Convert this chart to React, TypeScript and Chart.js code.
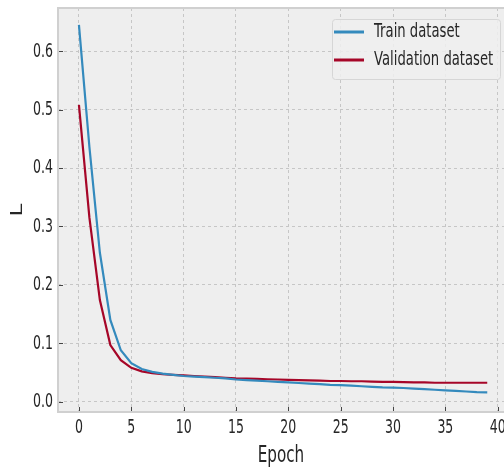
import { useEffect, useRef } from "react";
import { Chart, registerables } from "chart.js";

Chart.register(...registerables);

const epochs = [
  0, 1, 2, 3, 4, 5, 6, 7, 8, 9, 10, 11, 12, 13, 14, 15, 16, 17, 18, 19,
  20, 21, 22, 23, 24, 25, 26, 27, 28, 29, 30, 31, 32, 33, 34, 35, 36, 37, 38, 39,
];

const trainLoss = [
  0.645, 0.436, 0.255, 0.14, 0.088, 0.066, 0.056, 0.051, 0.048, 0.046,
  0.044, 0.043, 0.042, 0.041, 0.04, 0.038, 0.037, 0.036, 0.035, 0.034,
  0.033, 0.032, 0.031, 0.03, 0.029, 0.0285, 0.0275, 0.0265, 0.0255, 0.0245,
  0.024, 0.0235, 0.0225, 0.0215, 0.0205, 0.0195, 0.0185, 0.0175, 0.0165, 0.016,
];

const validationLoss = [
  0.508, 0.315, 0.174, 0.097, 0.071, 0.058, 0.052, 0.049, 0.047, 0.046,
  0.045, 0.044, 0.043, 0.042, 0.041, 0.04, 0.0395, 0.039, 0.0385, 0.038,
  0.0375, 0.037, 0.0365, 0.036, 0.0355, 0.0355, 0.035, 0.035, 0.0345, 0.034,
  0.034, 0.0335, 0.033, 0.033, 0.0325, 0.0325, 0.0325, 0.0325, 0.0325, 0.0325,
];

const seriesLabels = ["Train dataset", "Validation dataset"];
const xTickValues = [0, 5, 10, 15, 20, 25, 30, 35, 40];
const yTickValues = [0.0, 0.1, 0.2, 0.3, 0.4, 0.5, 0.6];
const xTitle = "Epoch";
const yTitle = "L";

const FONT = "'DejaVu Sans', sans-serif";
const TEXT = "#262626";
const SX = 0.66; // horizontal squeeze of all text

function squeezedText(
  ctx: CanvasRenderingContext2D,
  text: string,
  x: number,
  y: number,
  size: number,
  align: CanvasTextAlign,
  baseline: CanvasTextBaseline,
  rotate = 0
) {
  ctx.save();
  ctx.translate(x, y);
  ctx.scale(SX, 1);
  if (rotate) ctx.rotate(rotate);
  ctx.font = `${size}px ${FONT}`;
  ctx.fillStyle = TEXT;
  ctx.textAlign = align;
  ctx.textBaseline = baseline;
  ctx.fillText(text, 0, 0);
  ctx.restore();
}

const bmhPlugin = {
  id: "bmh",
  beforeDraw(chart: any) {
    const { ctx, chartArea: a } = chart;
    ctx.save();
    ctx.fillStyle = "#eeeeee";
    ctx.fillRect(a.left, a.top, a.right - a.left, a.bottom - a.top);
    ctx.restore();
  },
  afterDraw(chart: any) {
    const { ctx, chartArea: a } = chart;
    const xs = chart.scales.x;
    const ys = chart.scales.y;
    ctx.save();
    // frame
    ctx.strokeStyle = "#d0d0d0";
    ctx.lineWidth = 2;
    ctx.strokeRect(a.left, a.top, a.right - a.left + 4, a.bottom - a.top);
    // inward ticks
    ctx.strokeStyle = "#444";
    ctx.lineWidth = 1;
    xs.ticks.forEach((t: any) => {
      const px = Math.round(xs.getPixelForValue(t.value)) + 0.5;
      ctx.beginPath();
      ctx.moveTo(px, a.bottom - 1);
      ctx.lineTo(px, a.bottom - 5);
      ctx.stroke();
    });
    ys.ticks.forEach((t: any) => {
      const py = Math.round(ys.getPixelForValue(t.value)) + 0.5;
      ctx.beginPath();
      ctx.moveTo(a.left + 1, py);
      ctx.lineTo(a.left + 5, py);
      ctx.stroke();
    });
    ctx.restore();

    // tick labels
    xs.ticks.forEach((t: any) => {
      squeezedText(ctx, String(t.value), xs.getPixelForValue(t.value), a.bottom + 21, 19, "center", "alphabetic");
    });
    ys.ticks.forEach((t: any) => {
      squeezedText(ctx, Number(t.value).toFixed(1), a.left - 5, ys.getPixelForValue(t.value) + 0.5, 19, "right", "middle");
    });
    // axis titles
    squeezedText(ctx, xTitle, (a.left + a.right) / 2, 462, 23, "center", "alphabetic");
    squeezedText(ctx, yTitle, 22, (a.top + a.bottom) / 2, 23, "center", "alphabetic", -Math.PI / 2);

    // legend
    ctx.save();
    const bx = 332, by = 19, bw = 168, bh = 60;
    ctx.fillStyle = "rgba(238,238,238,0.85)";
    ctx.strokeStyle = "#d6d6d6";
    ctx.lineWidth = 1;
    ctx.beginPath();
    ctx.roundRect(bx + 0.5, by + 0.5, bw, bh, 3);
    ctx.fill();
    ctx.stroke();
    chart.data.datasets.forEach((ds: any, i: number) => {
      const ry = by + 13 + i * 28;
      ctx.strokeStyle = ds.borderColor;
      ctx.lineWidth = 3;
      ctx.beginPath();
      ctx.moveTo(bx + 2, ry);
      ctx.lineTo(bx + 32, ry);
      ctx.stroke();
      squeezedText(ctx, ds.label, bx + 42, ry, 20, "left", "middle");
    });
    ctx.restore();
  },
};

export default function App() {
  const ref = useRef<HTMLCanvasElement | null>(null);

  useEffect(() => {
    document.body.style.margin = "0";
    const canvas = ref.current;
    if (!canvas) return;
    const chart = new Chart(canvas, {
      type: "line",
      data: {
        datasets: [
          {
            label: seriesLabels[0],
            data: epochs.map((e, i) => ({ x: e, y: trainLoss[i] })),
            borderColor: "#348ABD",
            backgroundColor: "#348ABD",
            borderWidth: 2.2,
            pointRadius: 0,
            tension: 0,
          },
          {
            label: seriesLabels[1],
            data: epochs.map((e, i) => ({ x: e, y: validationLoss[i] })),
            borderColor: "#A60628",
            backgroundColor: "#A60628",
            borderWidth: 2.2,
            pointRadius: 0,
            tension: 0,
          },
        ],
      },
      options: {
        responsive: false,
        animation: false,
        devicePixelRatio: 1,
        layout: { padding: { top: 8, right: 0, left: 0, bottom: 0 } },
        plugins: {
          legend: { display: false },
          tooltip: { enabled: false },
        },
        scales: {
          x: {
            type: "linear",
            min: -2.0,
            max: 40.6,
            afterBuildTicks: (s: any) => {
              s.ticks = xTickValues.map((v) => ({ value: v }));
            },
            afterFit: (s: any) => {
              s.height = 56;
            },
            ticks: { display: false },
            grid: { color: "#c6c6c6", lineWidth: 1, drawTicks: false },
            border: { display: false, dash: [3, 3] },
            title: { display: false },
          },
          y: {
            type: "linear",
            min: -0.0176,
            max: 0.674,
            afterBuildTicks: (s: any) => {
              s.ticks = yTickValues.map((v) => ({ value: v }));
            },
            afterFit: (s: any) => {
              s.width = 58;
            },
            ticks: { display: false },
            grid: { color: "#c6c6c6", lineWidth: 1, drawTicks: false },
            border: { display: false, dash: [3, 3] },
            title: { display: false },
          },
        },
      },
      plugins: [bmhPlugin],
    } as any);
    return () => chart.destroy();
  }, []);

  return (
    <div style={{ width: 504, height: 468, background: "#ffffff" }}>
      <canvas ref={ref} width={504} height={468} style={{ display: "block" }} />
    </div>
  );
}
